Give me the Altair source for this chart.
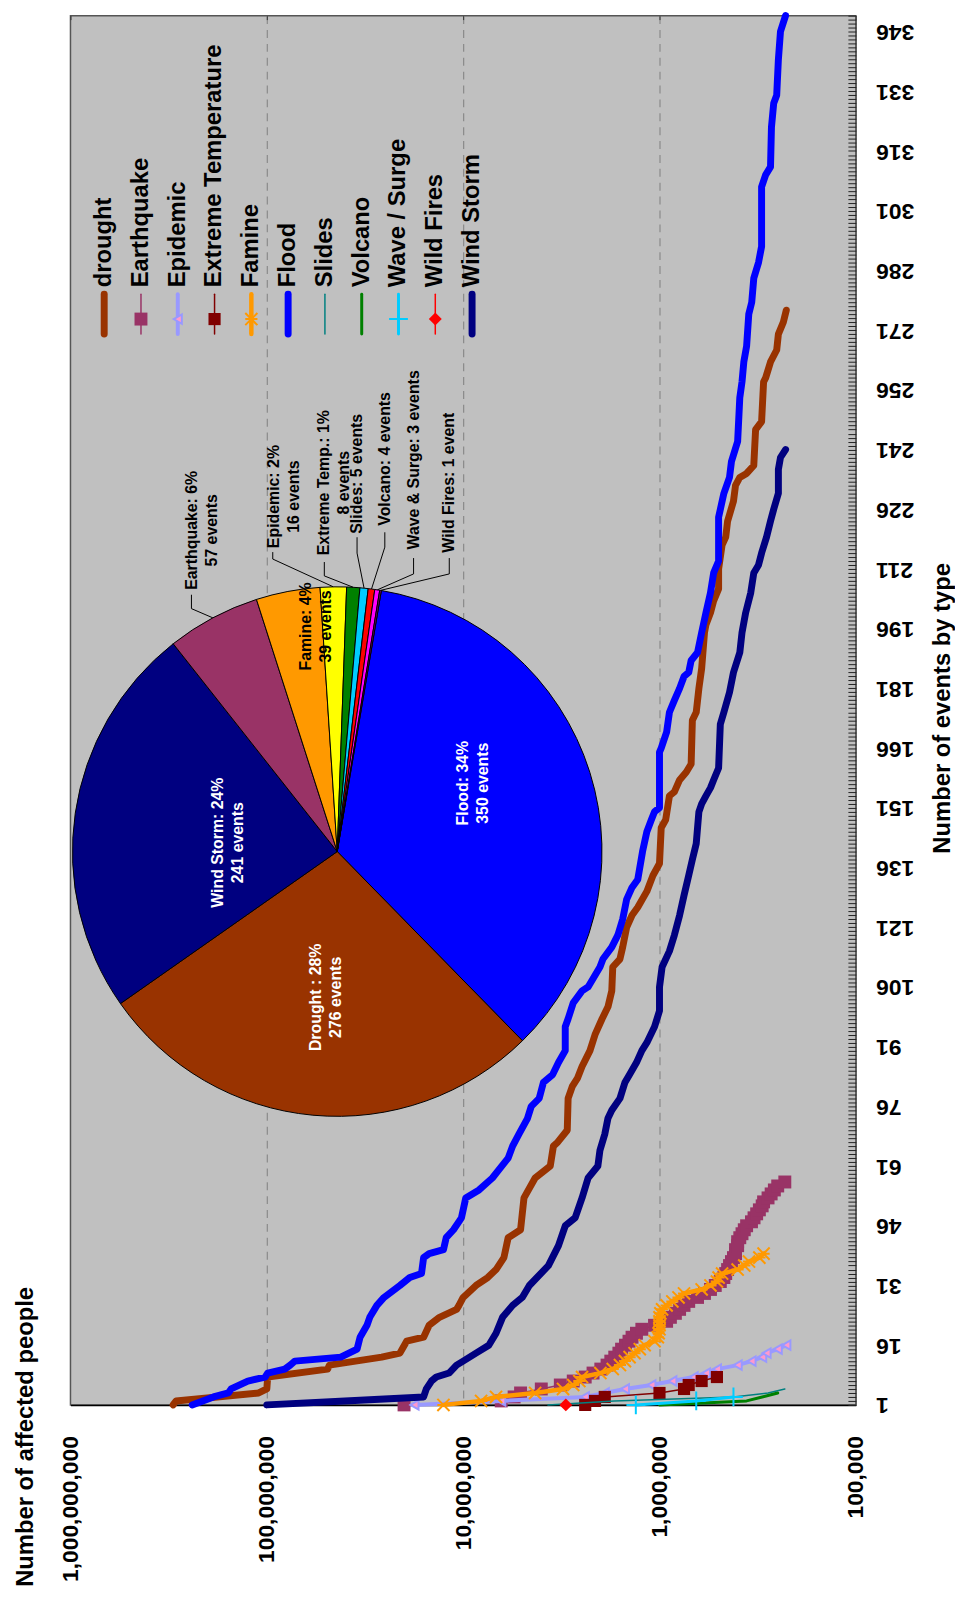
import math
import altair as alt
import pandas as pd

FONT = "Liberation Sans"

# ---------------- values ----------------
flood_rank = [1, 3, 4, 5, 7, 8, 9, 10, 11, 12, 13, 15, 18, 21, 23, 26, 28, 31, 33, 34,
              38, 39, 40, 43, 45, 48, 53, 55, 58, 60, 63, 66, 69, 73, 76, 78, 82, 84, 87, 90,
              96, 98, 102, 105, 106, 111, 113, 116, 119, 123, 128, 131, 133, 140, 145, 148, 150, 151, 165, 166,
              170, 175, 178, 181, 184, 185, 188, 190, 195, 200, 205, 210, 213, 224, 230, 234, 238, 243, 254, 258,
              263, 267, 275, 278, 284, 288, 292, 307, 310, 312, 322, 328, 330, 339, 346, 350]
flood_people = [2.4e8, 1.87e8, 1.57e8, 1.52e8, 1.25e8, 1.02e8, 9.9e7, 8.1e7, 7.6e7, 7.2e7,
                4.2e7, 3.47e7, 3.35e7, 3.09e7, 2.99e7, 2.75e7, 2.53e7, 2.10e7, 1.87e7, 1.63e7,
                1.59e7, 1.49e7, 1.26e7, 1.22e7, 1.12e7, 1.02e7, 9.7e6, 8.3e6, 7.1e6, 6.6e6,
                5.9e6, 5.6e6, 5.2e6, 4.7e6, 4.5e6, 4.1e6, 3.9e6, 3.5e6, 3.27e6, 3.02e6,
                3.02e6, 2.92e6, 2.75e6, 2.48e6, 2.31e6, 2.01e6, 1.94e6, 1.75e6, 1.63e6, 1.54e6,
                1.47e6, 1.38e6, 1.29e6, 1.22e6, 1.16e6, 1.10e6, 1.06e6, 1.0e6, 1.0e6, 9.8e5,
                9.2e5, 8.9e5, 8.4e5, 7.9e5, 7.5e5, 7.1e5, 6.9e5, 6.4e5, 6.1e5, 5.8e5,
                5.5e5, 5.3e5, 5.0e5, 5.0e5, 4.7e5, 4.4e5, 4.3e5, 4.0e5, 3.9e5, 3.8e5,
                3.72e5, 3.6e5, 3.51e5, 3.39e5, 3.31e5, 3.13e5, 3.02e5, 3.02e5, 2.88e5, 2.72e5,
                2.69e5, 2.62e5, 2.53e5, 2.48e5, 2.42e5, 2.28e5]

drought_rank = [1, 2, 4, 5, 8, 10, 11, 13, 14, 17, 18, 21, 23, 25, 26, 28, 31, 33, 35, 38,
                43, 45, 53, 58, 61, 66, 67, 70, 78, 81, 83, 86, 90, 94, 98, 101, 105, 111, 113, 116,
                121, 124, 126, 130, 134, 137, 146, 148, 154, 155, 158, 160, 162, 173, 175, 181, 186, 195, 197, 200,
                203, 206, 211, 217, 219, 223, 228, 232, 234, 235, 237, 246, 248, 258, 259, 263, 266, 270, 273, 276]
drought_people = [3.0e8, 2.9e8, 1.1e8, 1.0e8, 9.9e7, 4.9e7, 4.8e7, 2.6e7, 2.1e7, 1.94e7,
                  1.59e7, 1.49e7, 1.32e7, 1.08e7, 1.05e7, 1.0e7, 8.6e6, 7.5e6, 6.8e6, 6.2e6,
                  5.9e6, 5.1e6, 4.9e6, 4.3e6, 3.6e6, 3.47e6, 3.3e6, 2.95e6, 2.92e6, 2.78e6,
                  2.62e6, 2.48e6, 2.26e6, 2.13e6, 1.96e6, 1.83e6, 1.75e6, 1.73e6, 1.59e6, 1.54e6,
                  1.47e6, 1.38e6, 1.29e6, 1.16e6, 1.08e6, 1.0e6, 9.8e5, 9.3e5, 8.9e5, 8.4e5,
                  7.9e5, 7.3e5, 6.9e5, 6.8e5, 6.5e5, 6.3e5, 6.1e5, 5.9e5, 5.8e5, 5.5e5,
                  5.3e5, 5.0e5, 5.0e5, 4.8e5, 4.6e5, 4.5e5, 4.2e5, 4.1e5, 3.9e5, 3.6e5,
                  3.31e5, 3.24e5, 3.02e5, 2.95e5, 2.88e5, 2.72e5, 2.53e5, 2.48e5, 2.34e5, 2.26e5]

windstorm_rank = [1, 2, 3, 5, 7, 8, 9, 11, 12, 14, 16, 19, 23, 26, 28, 31, 36, 41, 46, 48,
                  53, 58, 61, 65, 69, 73, 75, 78, 82, 84, 87, 90, 92, 96, 100, 106, 111, 115, 119, 124,
                  129, 134, 138, 142, 150, 152, 154, 156, 158, 161, 172, 175, 180, 185, 190, 195, 200, 205, 210, 212,
                  215, 219, 223, 226, 230, 236, 239, 241]
windstorm_people = [1.0e8, 4.0e7, 1.59e7, 1.54e7, 1.45e7, 1.37e7, 1.18e7, 1.08e7, 1.0e7, 8.6e6,
                    7.4e6, 6.8e6, 6.3e6, 5.6e6, 5.0e6, 4.6e6, 3.68e6, 3.27e6, 3.02e6, 2.69e6,
                    2.48e6, 2.31e6, 2.06e6, 2.01e6, 1.90e6, 1.83e6, 1.75e6, 1.59e6, 1.50e6, 1.42e6,
                    1.31e6, 1.23e6, 1.16e6, 1.06e6, 1.0e6, 1.0e6, 9.7e5, 8.9e5, 8.4e5, 7.9e5,
                    7.5e5, 7.1e5, 6.8e5, 6.5e5, 6.3e5, 6.1e5, 5.8e5, 5.5e5, 5.3e5, 5.0e5,
                    4.9e5, 4.7e5, 4.4e5, 4.2e5, 3.9e5, 3.8e5, 3.64e5, 3.43e5, 3.31e5, 3.13e5,
                    3.02e5, 2.85e5, 2.72e5, 2.62e5, 2.48e5, 2.48e5, 2.42e5, 2.28e5]

earthquake_people = [2.0e7, 6.4e6, 5.5e6, 5.1e6, 4.0e6, 3.2e6, 2.75e6, 2.39e6, 2.18e6, 1.99e6,
                     1.85e6, 1.77e6, 1.69e6, 1.61e6, 1.56e6, 1.49e6, 1.43e6, 1.38e6, 1.31e6, 1.23e6,
                     1.06e6, 9.2e5, 8.8e5, 8.3e5, 7.9e5, 7.5e5, 7.1e5, 6.4e5, 5.9e5, 5.5e5,
                     5.2e5, 4.9e5, 4.7e5, 4.6e5, 4.5e5, 4.4e5, 4.3e5, 4.2e5, 4.1e5, 4.1e5,
                     4.0e5, 4.0e5, 3.9e5, 3.8e5, 3.7e5, 3.6e5, 3.4e5, 3.3e5, 3.2e5, 3.1e5,
                     3.0e5, 2.95e5, 2.8e5, 2.7e5, 2.6e5, 2.5e5, 2.3e5]
famine_people = [1.26e7, 8.1e6, 6.8e6, 4.3e6, 3.1e6, 2.75e6, 2.56e6, 2.48e6, 2.0e6, 1.73e6,
                 1.59e6, 1.5e6, 1.42e6, 1.34e6, 1.26e6, 1.19e6, 1.06e6, 1.02e6, 1.01e6, 1.0e6,
                 1.0e6, 1.0e6, 1.0e6, 9.9e5, 9.7e5, 9.2e5, 8.6e5, 8.0e5, 7.5e5, 6.1e5,
                 5.5e5, 5.1e5, 5.0e5, 4.8e5, 4.0e5, 3.7e5, 3.5e5, 3.1e5, 2.95e5]
epidemic_people = [1.77e7, 6.4e6, 2.4e6, 1.9e6, 1.5e6, 1.1e6, 8.6e5, 6.7e5, 5.8e5, 5.1e5,
                   4.0e5, 3.4e5, 3.0e5, 2.85e5, 2.5e5, 2.26e5]
extreme_temp_people = [2.39e6, 2.13e6, 1.9e6, 1.0e6, 7.5e5, 7.1e5, 6.1e5, 5.1e5]
slides_people = [3.7e6, 1.7e6, 4.2e5, 2.8e5, 2.3e5]
volcano_people = [1.0e6, 3.6e5, 3.0e5, 2.5e5]
wave_surge_people = [1.32e6, 6.5e5, 4.2e5]
wild_fires_people = [3.0e6]

pie_types = ["Flood", "Drought", "Wind Storm", "Earthquake", "Famine", "Epidemic",
             "Extreme Temp.", "Slides", "Volcano", "Wave & Surge", "Wild Fires"]
pie_events = [350, 276, 241, 57, 39, 16, 8, 5, 4, 3, 1]
pie_texts = ["Flood: 34%\n350 events", "Drought : 28%\n276 events", "Wind Storm: 24%\n241 events",
             "Earthquake:  6%\n57  events", "Famine: 4%\n39 events", "Epidemic: 2%\n16 events",
             "Extreme Temp.: 1%\n8 events", "Slides: 5 events", "Volcano: 4  events",
             "Wave & Surge: 3 events", "Wild Fires: 1 event"]

x_tick_values = [100000, 1000000, 10000000, 100000000, 1000000000]
y_tick_values = list(range(1, 347, 15))

series_names = ["drought", "Earthquake", "Epidemic", "Extreme Temperature", "Famine", "Flood",
                "Slides", "Volcano", "Wave / Surge", "Wild Fires", "Wind Storm"]


def ranked(values):
    return list(range(1, len(values) + 1)), values


SERIES = {
    "drought": (drought_rank, drought_people),
    "Earthquake": ranked(earthquake_people),
    "Epidemic": ranked(epidemic_people),
    "Extreme Temperature": ranked(extreme_temp_people),
    "Famine": ranked(famine_people),
    "Flood": (flood_rank, flood_people),
    "Slides": ranked(slides_people),
    "Volcano": ranked(volcano_people),
    "Wave / Surge": ranked(wave_surge_people),
    "Wild Fires": ranked(wild_fires_people),
    "Wind Storm": (windstorm_rank, windstorm_people),
}

# ---------------- styles & layout ----------------
STAR = "M-1,-1L1,1M-1,1L1,-1M-1,0L1,0"
PLUS = "M0,-1L0,1M-1,0L1,0"
STYLE = {
    "drought": {"color": "#993300", "width": 7},
    "Earthquake": {"color": "#993366", "width": 1.5,
                   "marker": {"shape": "square", "size": 170, "filled": True, "fill": "#993366", "stroke": "#993366", "sw": 0}},
    "Epidemic": {"color": "#9999FF", "width": 4,
                 "marker": {"shape": "triangle-left", "size": 90, "filled": True, "fill": "#FF99CC", "stroke": "#9999FF", "sw": 2}},
    "Extreme Temperature": {"color": "#800000", "width": 1.5,
                            "marker": {"shape": "square", "size": 150, "filled": True, "fill": "#800000", "stroke": "#800000", "sw": 0}},
    "Famine": {"color": "#FF9900", "width": 4.5,
               "marker": {"shape": STAR, "size": 150, "filled": False, "stroke": "#FF9900", "sw": 2}},
    "Flood": {"color": "#0000FF", "width": 7},
    "Slides": {"color": "#008080", "width": 1.5},
    "Volcano": {"color": "#008000", "width": 3},
    "Wave / Surge": {"color": "#00CCFF", "width": 3,
                     "marker": {"shape": PLUS, "size": 360, "filled": False, "stroke": "#00CCFF", "sw": 2}},
    "Wild Fires": {"color": "#FF0000", "width": 1.5,
                   "marker": {"shape": "diamond", "size": 170, "filled": True, "fill": "#FF0000", "stroke": "#FF0000", "sw": 0}},
    "Wind Storm": {"color": "#000080", "width": 7},
}
PIE_COLORS = ["#0000FF", "#993300", "#000080", "#993366", "#FF9900", "#FFFF00",
              "#008000", "#00CCFF", "#FF0000", "#FF00FF", "#800080"]
PIE_TEXT_COLORS = ["white", "white", "white", "black", "black", "black",
                   "black", "black", "black", "black", "black"]

W, H = 792, 1401
OX, OY = 71, 9   # page position of the plot's top-left corner
PIE_CX, PIE_CY, PIE_R = 340 - OX, 852 - OY, 267
PIE_START = math.radians(9.6)
PIE_LABEL_POS = [(467, 783), (319, 999), (220, 843), (194, 528), (309, 625), (276, 494),
                 (327, 480), (360, 471), (388, 456), (417, 457), (453, 480)]
LEADER_START = {"Earthquake": (193, 593, 14), "Epidemic": (275, 550, 7), "Extreme Temp.": (327, 560, 14),
                "Slides": (360, 535, 16), "Volcano": (388, 530, 15), "Wave & Surge": (417, 556, 16),
                "Wild Fires": (453, 556, 16)}
LEG_X0, LEG_DX = 105 - OX, 37.1
LEG_TEXT_Y, LEG_LINE_Y1, LEG_LINE_Y2, LEG_MARK_Y = 283 - OY, 290 - OY, 330 - OY, 315 - OY

xscale = alt.Scale(type="log", domain=[1e5, 1e9], reverse=True, nice=False)
yscale = alt.Scale(domain=[1, 350], nice=False, zero=False)

x_axis_main = alt.Axis(
    values=x_tick_values, format=",d", orient="bottom", labelAngle=270, labelAlign="right",
    labelBaseline="middle", labelFontSize=23, labelFont=FONT, labelFontWeight="bold",
    labelColor="black", labelPadding=31, labelFlush=False, labelOverlap=False, ticks=False,
    domainColor="black", domainWidth=1.5, grid=True, gridColor="#8a8a8a", gridDash=[8, 6],
    gridWidth=1.2,
    gridOpacity={"condition": {"test": "datum.value < 200000 || datum.value > 500000000", "value": 0}, "value": 1},
    title="Number of affected people", titleAngle=270, titleAlign="left", titleBaseline="middle",
    titleX=-45, titleY=183, titleFontSize=24, titleFont=FONT, titleFontWeight="bold", titleColor="black")
y_axis_main = alt.Axis(
    values=y_tick_values, format="d", orient="right", labelAngle=180, labelAlign="right",
    labelBaseline="middle", labelFontSize=23, labelFont=FONT, labelFontWeight="bold",
    labelColor="black", labelPadding=20, labelFlush=False, labelOverlap=False, ticks=False,
    domainColor="#555555", grid=False,
    title="Number of events by type", titleAngle=270, titleAlign="center", titleBaseline="middle",
    titleX=87, titleY=698, titleFontSize=24, titleFont=FONT, titleFontWeight="bold", titleColor="black")
x_axis_top = alt.Axis(values=x_tick_values, orient="top", labels=False, domain=False, ticks=True,
                      tickSize=4, tickColor="#333333", offset=-4, grid=False, title=None)
y_axis_comb = alt.Axis(values=list(range(1, 351)), orient="right", labels=False, domain=False,
                       ticks=True, tickSize=8, tickColor="#222222", tickWidth=1, offset=-8,
                       grid=False, title=None)


def marker_mark(chart, m):
    if m["filled"]:
        return chart.mark_point(shape=m["shape"], size=m["size"], filled=True, fill=m["fill"],
                                stroke=m["stroke"], strokeWidth=m["sw"], opacity=1)
    return chart.mark_point(shape=m["shape"], size=m["size"], filled=False,
                            stroke=m["stroke"], strokeWidth=m["sw"], opacity=1)


layers = []
for i, name in enumerate(series_names):
    ranks, people = SERIES[name]
    df = pd.DataFrame({"rank": ranks, "people": people})
    st = STYLE[name]
    if i == 0:
        ax, ay = x_axis_main, y_axis_main
    elif i == 1:
        ax, ay = x_axis_top, y_axis_comb
    else:
        ax, ay = None, None
    xe = alt.X("people:Q", scale=xscale, axis=ax)
    ye = alt.Y("rank:Q", scale=yscale, axis=ay)
    if len(df) > 1 or i < 2:
        layers.append(alt.Chart(df).mark_line(color=st["color"], strokeWidth=st["width"],
                                              strokeJoin="round", strokeCap="round")
                      .encode(x=xe, y=ye, order=alt.Order("rank:Q")))
    if "marker" in st:
        layers.append(marker_mark(alt.Chart(df), st["marker"]).encode(
            x=alt.X("people:Q", scale=xscale, axis=None), y=alt.Y("rank:Q", scale=yscale, axis=None)))

# ---------------- pie ----------------
pie_df = pd.DataFrame({"type": pie_types, "events": pie_events, "ord": list(range(len(pie_types)))})
pie = alt.Chart(pie_df).mark_arc(radius=PIE_R, stroke="black", strokeWidth=1).encode(
    theta=alt.Theta("events:Q", stack=True, scale=alt.Scale(range=[PIE_START, PIE_START + 2 * math.pi])),
    order=alt.Order("ord:Q"),
    color=alt.Color("type:N", scale=alt.Scale(domain=pie_types, range=PIE_COLORS), legend=None),
    x=alt.value(PIE_CX), y=alt.value(PIE_CY))
layers.append(pie)

lab_df = pd.DataFrame({
    "px": [p[0] - OX for p in PIE_LABEL_POS], "py": [p[1] - OY for p in PIE_LABEL_POS],
    "txt": pie_texts, "col": PIE_TEXT_COLORS})
layers.append(alt.Chart(lab_df).mark_text(angle=270, align="center", baseline="middle", font=FONT,
                                          fontWeight="bold", fontSize=16, lineBreak="\n", lineHeight=20)
              .encode(x=alt.X("px:Q", scale=None), y=alt.Y("py:Q", scale=None),
                      text="txt:N", color=alt.Color("col:N", scale=None)))

total = sum(pie_events)
cum = 0
rows = []
for t, e in zip(pie_types, pie_events):
    mid = PIE_START + (cum + e / 2) / total * 2 * math.pi
    cum += e
    if t in LEADER_START:
        sx, sy, drop = LEADER_START[t]
        ex, ey = PIE_CX + PIE_R * math.sin(mid), PIE_CY - PIE_R * math.cos(mid)
        rows += [{"id": t, "seq": 0, "px": sx - OX, "py": sy - OY},
                 {"id": t, "seq": 1, "px": sx - OX, "py": sy - OY + drop},
                 {"id": t, "seq": 2, "px": ex, "py": ey}]
lead_df = pd.DataFrame(rows)
layers.append(alt.Chart(lead_df).mark_line(color="black", strokeWidth=1).encode(
    x=alt.X("px:Q", scale=None), y=alt.Y("py:Q", scale=None), detail="id:N", order=alt.Order("seq:Q")))

# ---------------- legend (drawn inside the plot) ----------------
leg_df = pd.DataFrame({
    "name": series_names,
    "px": [LEG_X0 + i * LEG_DX for i in range(len(series_names))],
    "col": [STYLE[n]["color"] for n in series_names],
    "w": [STYLE[n]["width"] for n in series_names]})
leg_df["y1"] = LEG_LINE_Y1
leg_df["y2"] = LEG_LINE_Y2
leg_df["ty"] = LEG_TEXT_Y
leg_df["my"] = LEG_MARK_Y
layers.append(alt.Chart(leg_df).mark_rule(strokeCap="round").encode(
    x=alt.X("px:Q", scale=None), y=alt.Y("y1:Q", scale=None), y2="y2:Q",
    color=alt.Color("col:N", scale=None), strokeWidth=alt.StrokeWidth("w:Q", scale=None)))
for name in series_names:
    st = STYLE[name]
    if "marker" in st:
        sub = leg_df[leg_df["name"] == name]
        layers.append(marker_mark(alt.Chart(sub), st["marker"]).encode(
            x=alt.X("px:Q", scale=None), y=alt.Y("my:Q", scale=None)))
layers.append(alt.Chart(leg_df).mark_text(angle=270, align="left", baseline="middle", font=FONT,
                                          fontWeight="bold", fontSize=24, color="black")
              .encode(x=alt.X("px:Q", scale=None), y=alt.Y("ty:Q", scale=None), text="name:N"))

chart = alt.layer(*layers).resolve_axis(x="independent", y="independent").properties(
    width=W, height=H,
    autosize=alt.AutoSizeParams(type="none"),
    padding={"left": 63, "top": 1, "right": 100, "bottom": 185},
    background="white",
).configure_view(fill="#C0C0C0", stroke="#555555", strokeWidth=1.5)

chart.save("out.html", embed_options={"renderer": "svg", "actions": False})
